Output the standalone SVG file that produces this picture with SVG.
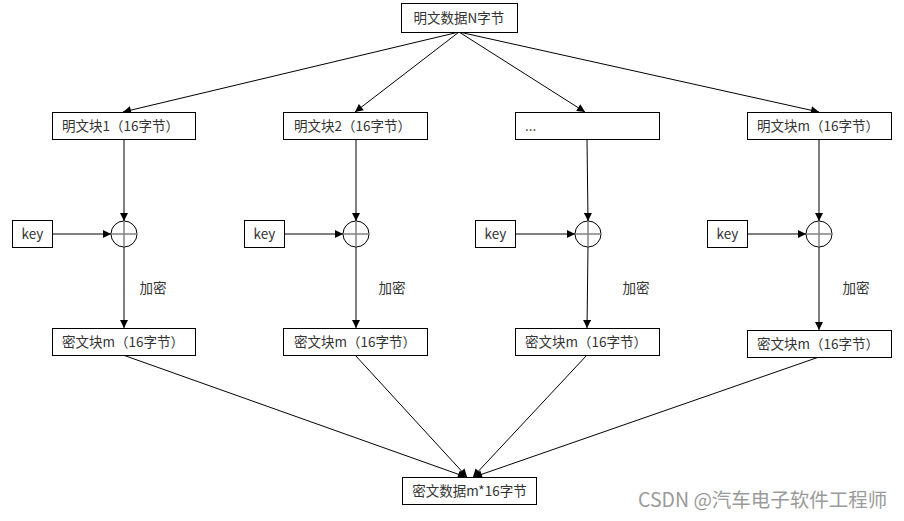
<svg xmlns="http://www.w3.org/2000/svg" width="904" height="521" viewBox="0 0 904 521">
<style>
.box{fill:#fff;stroke:#000;stroke-width:1}
.t{font-family:"Noto Sans CJK SC","Microsoft YaHei",sans-serif;font-size:13.5px;fill:#333}
.c{text-anchor:middle}
.ln{stroke:#000;stroke-width:1;fill:none}
.xor{fill:#fff;stroke:#000;stroke-width:1}
.plus{stroke:#808080;stroke-width:1.5}
.wm{font-family:"Noto Sans CJK SC",sans-serif;font-size:19.5px;fill:#9a9a9a}
</style>
<defs>
<marker id="ah" viewBox="0 0 10 10" refX="10" refY="5" markerWidth="9" markerHeight="8" markerUnits="userSpaceOnUse" orient="auto">
<path d="M0,0 L10,5 L0,10 z" fill="#000"/>
</marker>
</defs>
<rect width="904" height="521" fill="#fff"/>
<g id="connectors">
<line class="ln" x1="459" y1="32" x2="123" y2="112" marker-end="url(#ah)"/>
<line class="ln" x1="459" y1="32" x2="355" y2="112" marker-end="url(#ah)"/>
<line class="ln" x1="459" y1="32" x2="585" y2="112" marker-end="url(#ah)"/>
<line class="ln" x1="459" y1="32" x2="819" y2="112" marker-end="url(#ah)"/>
<line class="ln" x1="124" y1="139" x2="124" y2="221" marker-end="url(#ah)"/>
<line class="ln" x1="356" y1="139" x2="356" y2="221" marker-end="url(#ah)"/>
<line class="ln" x1="587" y1="139" x2="588" y2="221" marker-end="url(#ah)"/>
<line class="ln" x1="819" y1="139" x2="819" y2="221" marker-end="url(#ah)"/>
<line class="ln" x1="52" y1="234" x2="111" y2="234" marker-end="url(#ah)"/>
<line class="ln" x1="284" y1="234" x2="343" y2="234" marker-end="url(#ah)"/>
<line class="ln" x1="515" y1="234" x2="575" y2="234" marker-end="url(#ah)"/>
<line class="ln" x1="747" y1="234" x2="806" y2="234" marker-end="url(#ah)"/>
<line class="ln" x1="124" y1="247" x2="124" y2="328" marker-end="url(#ah)"/>
<line class="ln" x1="356" y1="247" x2="356" y2="328" marker-end="url(#ah)"/>
<line class="ln" x1="588" y1="247" x2="587" y2="328" marker-end="url(#ah)"/>
<line class="ln" x1="819" y1="247" x2="819" y2="330" marker-end="url(#ah)"/>
<line class="ln" x1="123" y1="355" x2="466" y2="477" marker-end="url(#ah)"/>
<line class="ln" x1="355" y1="355" x2="467" y2="477" marker-end="url(#ah)"/>
<line class="ln" x1="587" y1="355" x2="473" y2="477" marker-end="url(#ah)"/>
<line class="ln" x1="819" y1="357" x2="474" y2="477" marker-end="url(#ah)"/>
</g>
<g id="plain">
<rect class="box" x="401.5" y="3.5" width="116" height="29"/>
<text class="t c" x="459" y="22.5">明文数据N字节</text>
</g>
<g id="p1"><rect class="box" x="52.5" y="112.5" width="143" height="27"/><text class="t" x="62" y="130.5">明文块1（16字节）</text></g>
<g id="p2"><rect class="box" x="283.5" y="112.5" width="144" height="27"/><text class="t" x="294" y="130.5">明文块2（16字节）</text></g>
<g id="p3"><rect class="box" x="515.5" y="112.5" width="144" height="27"/><text class="t" x="525" y="130.5">...</text></g>
<g id="p4"><rect class="box" x="747.5" y="112.5" width="144" height="27"/><text class="t" x="757" y="130.5">明文块m（16字节）</text></g>
<g id="k1"><rect class="box" x="12.5" y="220.5" width="40" height="27"/><text class="t c" x="32.5" y="238.5">key</text></g>
<g id="k2"><rect class="box" x="244.5" y="220.5" width="40" height="27"/><text class="t c" x="264.5" y="238.5">key</text></g>
<g id="k3"><rect class="box" x="475.5" y="220.5" width="40" height="27"/><text class="t c" x="495.5" y="238.5">key</text></g>
<g id="k4"><rect class="box" x="707.5" y="220.5" width="40" height="27"/><text class="t c" x="727.5" y="238.5">key</text></g>
<g id="x1"><circle class="xor" cx="124" cy="234" r="13"/><line class="plus" x1="111" y1="234" x2="137" y2="234"/><line class="plus" x1="124" y1="221" x2="124" y2="247"/></g>
<g id="x2"><circle class="xor" cx="356" cy="234" r="13"/><line class="plus" x1="343" y1="234" x2="369" y2="234"/><line class="plus" x1="356" y1="221" x2="356" y2="247"/></g>
<g id="x3"><circle class="xor" cx="588" cy="234" r="13"/><line class="plus" x1="575" y1="234" x2="601" y2="234"/><line class="plus" x1="588" y1="221" x2="588" y2="247"/></g>
<g id="x4"><circle class="xor" cx="819" cy="234" r="13"/><line class="plus" x1="806" y1="234" x2="832" y2="234"/><line class="plus" x1="819" y1="221" x2="819" y2="247"/></g>
<g id="labels">
<text class="t c" x="153" y="293">加密</text>
<text class="t c" x="392" y="293">加密</text>
<text class="t c" x="636" y="293">加密</text>
<text class="t c" x="856" y="293">加密</text>
</g>
<g id="c1"><rect class="box" x="52.5" y="328.5" width="143" height="27"/><text class="t" x="62" y="346.5">密文块m（16字节）</text></g>
<g id="c2"><rect class="box" x="283.5" y="328.5" width="144" height="27"/><text class="t" x="294" y="346.5">密文块m（16字节）</text></g>
<g id="c3"><rect class="box" x="515.5" y="328.5" width="144" height="27"/><text class="t" x="525" y="346.5">密文块m（16字节）</text></g>
<g id="c4"><rect class="box" x="747.5" y="330.5" width="144" height="27"/><text class="t" x="757" y="348.5">密文块m（16字节）</text></g>
<g id="cipher"><rect class="box" x="402.5" y="477.5" width="134" height="27"/><text class="t c" x="469.5" y="495.5">密文数据m*16字节</text></g>
<text class="wm" x="638" y="507">CSDN @汽车电子软件工程师</text>
</svg>
